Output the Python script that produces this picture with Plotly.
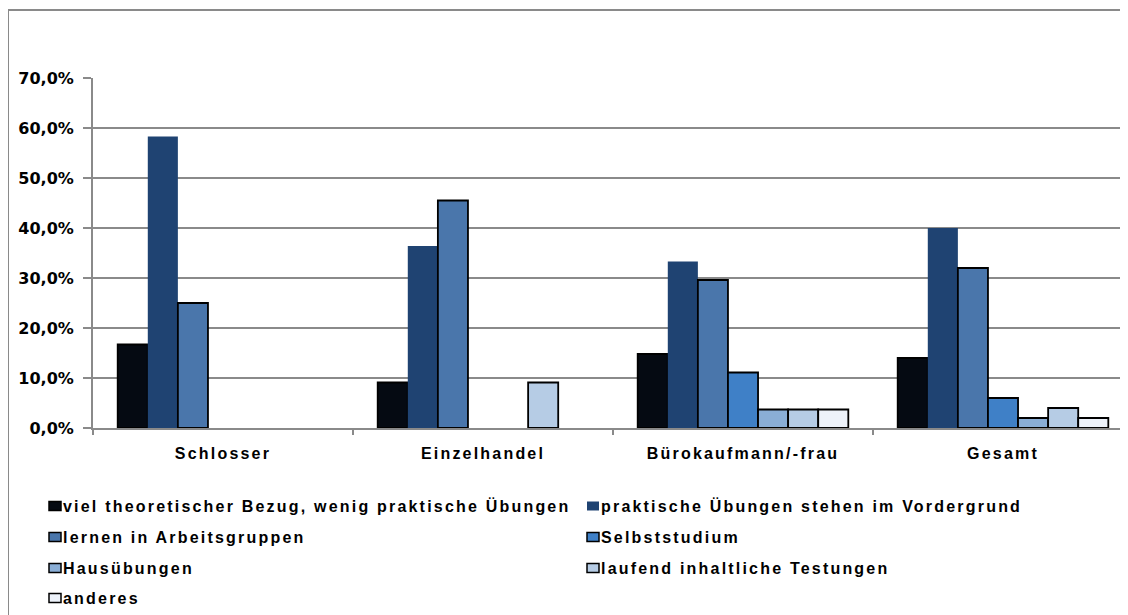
import plotly.graph_objects as go

categories = ["Schlosser", "Einzelhandel", "Bürokaufmann/-frau", "Gesamt"]
series_names = [
    "viel theoretischer Bezug, wenig praktische Übungen",
    "praktische Übungen stehen im Vordergrund",
    "lernen in Arbeitsgruppen",
    "Selbststudium",
    "Hausübungen",
    "laufend inhaltliche Testungen",
    "anderes",
]
viel_theorie = [0.167, 0.091, 0.148, 0.140]
praktische = [0.583, 0.364, 0.333, 0.400]
arbeitsgruppen = [0.250, 0.455, 0.296, 0.320]
selbststudium = [0.0, 0.0, 0.111, 0.060]
hausuebungen = [0.0, 0.0, 0.037, 0.020]
testungen = [0.0, 0.091, 0.037, 0.040]
anderes = [0.0, 0.0, 0.037, 0.020]
y_ticks = [0.0, 0.1, 0.2, 0.3, 0.4, 0.5, 0.6, 0.7]

series_values = [viel_theorie, praktische, arbeitsgruppen, selbststudium,
                 hausuebungen, testungen, anderes]
colors = ["#050a12", "#1f4372", "#4a76ab", "#3f80c7", "#8aaed6", "#b6cce5", "#edf2fa"]
line_widths = [1.8, 0, 1.8, 1.8, 1.8, 1.8, 1.8]

# the page body has an 8px margin; the figure starts at page (8, 8)
OFF = 8
W, H = 1128 - OFF, 615 - OFF
L = 93 - OFF
T = 78 - OFF
PLOT_BOTTOM = 428 - OFF
R = 0
B = H - PLOT_BOTTOM
PW = W - L - R
PH = H - T - B


def px_x(page_x):
    return (page_x - OFF - L) / PW


def px_y(page_y):
    return (PLOT_BOTTOM - (page_y - OFF)) / PH


fig = go.Figure()
for name, vals, col, lw in zip(series_names, series_values, colors, line_widths):
    fig.add_trace(go.Bar(
        x=categories,
        y=[v if v > 0 else None for v in vals],
        name=name,
        marker=dict(color=col, line=dict(color="#000000", width=lw)),
        showlegend=False,
    ))

axis_gray = "#8a8a8a"
fig.update_layout(
    width=W, height=H,
    margin=dict(l=L, r=R, t=T, b=B, pad=0),
    paper_bgcolor="white", plot_bgcolor="white",
    barmode="group", bargap=0.19, bargroupgap=0,
    separators=",.",
    xaxis=dict(
        type="category",
        range=[-0.5, 3.5 - 5 / 260],
        showgrid=False,
        showline=True, linecolor=axis_gray, linewidth=2,
        ticks="outside", tickson="boundaries", ticklen=5, tickcolor=axis_gray, tickwidth=2,
        tickfont=dict(family="Liberation Sans", size=16, color="#000000", weight="bold"),
        ticklabelstandoff=10,
    ),
    yaxis=dict(
        range=[0, 0.7],
        tickvals=y_ticks,
        tickformat=".1%",
        showgrid=True, gridcolor=axis_gray, gridwidth=2,
        showline=True, linecolor=axis_gray, linewidth=2,
        ticks="outside", ticklen=8, tickcolor=axis_gray, tickwidth=2,
        tickfont=dict(family="DejaVu Sans", size=16, color="#000000", weight="bold"),
        ticklabelstandoff=6,
        zeroline=False,
    ),
)

# outer frame of the chart area: only left and top edges are visible in the reference
fig.add_shape(type="line", xref="paper", yref="paper",
              x0=px_x(8), x1=px_x(8), y0=px_y(620), y1=px_y(10),
              line=dict(color=axis_gray, width=2), layer="below")
fig.add_shape(type="line", xref="paper", yref="paper",
              x0=px_x(8), x1=px_x(1130), y0=px_y(10), y1=px_y(10),
              line=dict(color=axis_gray, width=2), layer="below")

# legend (two columns)
col_sym_x = [49, 587]
row_y = [506, 537, 568, 598]
sym_w, sym_h = 12, 9
for i, (name, col, lw) in enumerate(zip(series_names, colors, line_widths)):
    r, c = divmod(i, 2)
    sx = col_sym_x[c]
    cy = row_y[r]
    fig.add_shape(type="rect", xref="paper", yref="paper",
                  x0=px_x(sx), x1=px_x(sx + sym_w),
                  y0=px_y(cy + sym_h / 2), y1=px_y(cy - sym_h / 2),
                  fillcolor=col,
                  line=dict(color="#000000", width=1.5 if lw > 0 else 0))
    fig.add_annotation(xref="paper", yref="paper",
                       x=px_x(sx + sym_w), y=px_y(cy),
                       xanchor="left", yanchor="middle", align="left",
                       text=name, showarrow=False,
                       font=dict(family="Liberation Sans", size=16, color="#000000", weight="bold"))

post = """
document.documentElement.style.overflow = 'hidden';
document.body.style.overflow = 'hidden';
var gd = document.getElementById('{plot_id}');
function ls(){
  document.querySelectorAll('.xtick text, .annotation-text').forEach(function(t){
    t.setAttribute('letter-spacing', '2.2px');
  });
}
ls();
gd.on('plotly_afterplot', ls);
"""

fig.write_html("out.html", post_script=post)
